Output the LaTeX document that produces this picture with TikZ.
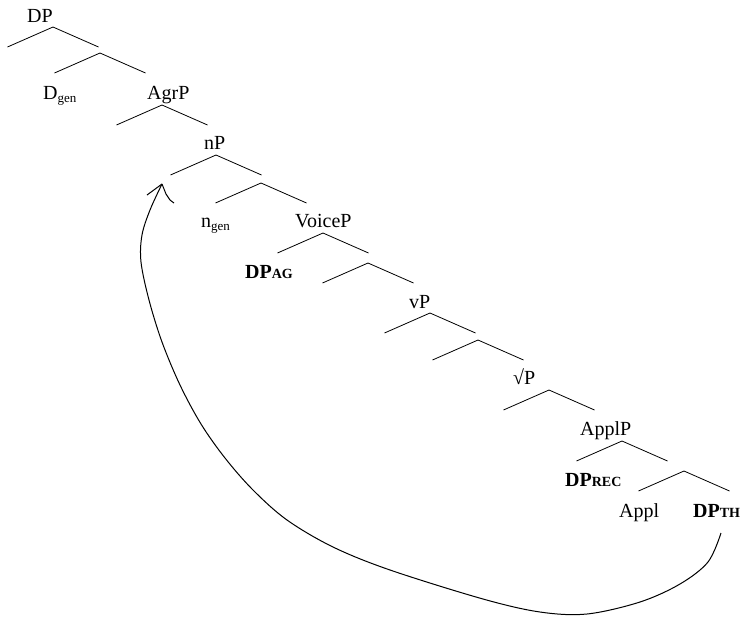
\documentclass[tikz,border=0pt]{standalone}
\usepackage{fontspec}
\setmainfont{Liberation Serif}
\newcommand\lblfont{\fontsize{20}{22}\selectfont}
\newcommand\subgen[1]{\raisebox{-3pt}{\fontsize{13}{14}\selectfont #1}}
\newcommand\subsc[1]{\raisebox{-0.5pt}{\fontsize{14}{14}\selectfont\bfseries #1}}
\begin{document}
\begin{tikzpicture}[x=1pt,y=-1pt,
  treeline/.style={line width=0.8pt},
  arc/.style={line width=1pt},
  lab/.style={anchor=base west, inner sep=0pt, font=\lblfont},
  branch/.pic={\draw[treeline] (-45.5,20) -- (0,0) -- (45.5,20);}]
\useasboundingbox (0,0) rectangle (755,616);
% branches
\pic at (53,27) {branch};
\pic at (100,53) {branch};
\pic at (162,105) {branch};
\pic at (216,155) {branch};
\pic at (261,183) {branch};
\pic at (323,233) {branch};
\pic at (368,263) {branch};
\pic at (430,313) {branch};
\pic at (478,340) {branch};
\pic at (549,390) {branch};
\pic at (622,441) {branch};
\pic at (684,471) {branch};
% labels
\node[lab] (dp) at (27,22) {DP};
\node[lab] (dgen) at (43,99) {D\subgen{gen}};
\node[lab] (agrp) at (147,99) {AgrP};
\node[lab] (np) at (204,149) {nP};
\node[lab] (ngen) at (201,227) {n\subgen{gen}};
\node[lab] (voicep) at (295,227) {VoiceP};
\node[lab] (dpag) at (245,278) {\textbf{DP}\subsc{AG}};
\node[lab] (vp) at (409,308) {vP};
\node[lab] (rootp) at (513,384) {√P};
\node[lab] (applp) at (580,435) {ApplP};
\node[lab] (dprec) at (565,486) {\textbf{DP}\subsc{REC}};
\node[lab] (appl) at (619,517) {Appl};
\node[lab] (dpth) at (693,517) {\textbf{DP}\subsc{TH}};
% movement arrow
\coordinate (cstart) at (721,533);
\coordinate (ctip) at (162,184);
\draw[arc] plot[smooth, tension=0.55] coordinates {(cstart) (708,562) (680,584) (640,602) (587,614) (540,612) (483,599) (390,570) (333,547) (287,520) (253,490) (225,458) (201,424) (180,385) (162,342) (149,300) (141,262) (142,235) (150,210) (ctip)};
\draw[arc] (ctip) -- (147,195);
\draw[arc] (ctip) -- (166,194) -- (170,200) -- (174,203);
\end{tikzpicture}
\end{document}
